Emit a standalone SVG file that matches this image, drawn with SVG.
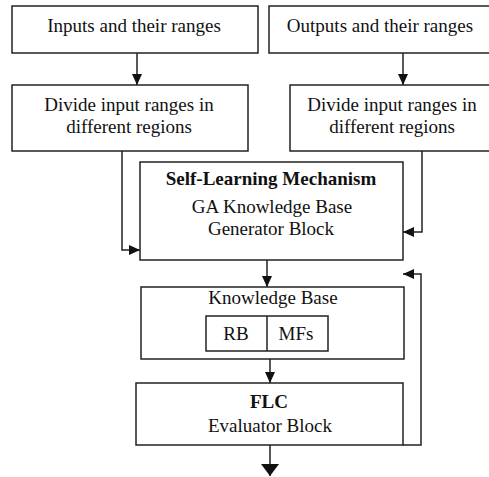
<svg xmlns="http://www.w3.org/2000/svg" width="489" height="477" viewBox="0 0 489 477">
<style>
.box{fill:#fff;stroke:#222;stroke-width:1.5}
.t{font-family:"Liberation Serif","Times New Roman",serif;font-size:19px;fill:#111;text-anchor:middle}
.b{font-weight:bold}
.c{fill:none;stroke:#222;stroke-width:1.5}
</style>
<defs>
<marker id="ah" viewBox="0 0 11 10" refX="11" refY="5" markerWidth="11" markerHeight="10" markerUnits="userSpaceOnUse" orient="auto">
<path d="M0,0 L11,5 L0,10 Z" fill="#111"/>
</marker>
<marker id="ahl" viewBox="0 0 12 18" refX="12" refY="9" markerWidth="12" markerHeight="18" markerUnits="userSpaceOnUse" orient="auto">
<path d="M0,0 L12,9 L0,18 Z" fill="#111"/>
</marker>
</defs>
<rect width="489" height="477" fill="#fff"/>
<g id="connectors">
<path class="c" d="M137,53 V85" marker-end="url(#ah)"/>
<path class="c" d="M403,53 V85" marker-end="url(#ah)"/>
<path class="c" d="M122,151 V250 H140" marker-end="url(#ah)"/>
<path class="c" d="M422,151 V232 H403" marker-end="url(#ah)"/>
<path class="c" d="M267,260 V287" marker-end="url(#ah)"/>
<path class="c" d="M270,359 V383" marker-end="url(#ah)"/>
<path class="c" d="M270,445 V476" marker-end="url(#ahl)"/>
<path class="c" d="M403,445 H421 V274 H403" marker-end="url(#ah)"/>
</g>
<g id="inputs">
<rect class="box" x="12" y="6" width="246" height="47"/>
<text class="t" x="134" y="32">Inputs and their ranges</text>
</g>
<g id="outputs">
<rect class="box" x="269" y="6" width="230" height="47"/>
<text class="t" x="380" y="32">Outputs and their ranges</text>
</g>
<g id="divide-left">
<rect class="box" x="12" y="85" width="236" height="66"/>
<text class="t" x="129" y="111">Divide input ranges in</text>
<text class="t" x="129" y="133">different regions</text>
</g>
<g id="divide-right">
<rect class="box" x="290" y="85" width="210" height="66"/>
<text class="t" x="392" y="111">Divide input ranges in</text>
<text class="t" x="392" y="133">different regions</text>
</g>
<g id="self-learning">
<rect class="box" x="140" y="162" width="263" height="98"/>
<text class="t b" x="271" y="185">Self-Learning Mechanism</text>
<text class="t" x="272" y="213">GA Knowledge Base</text>
<text class="t" x="271" y="235">Generator Block</text>
</g>
<g id="knowledge-base">
<rect class="box" x="141" y="287" width="263" height="72"/>
<text class="t" x="273" y="304">Knowledge Base</text>
<rect class="box" x="206" y="316" width="122" height="35"/>
<line class="c" x1="267" y1="316" x2="267" y2="351"/>
<text class="t" x="236" y="340">RB</text>
<text class="t" x="296" y="340">MFs</text>
</g>
<g id="flc">
<rect class="box" x="136" y="383" width="267" height="62"/>
<text class="t b" x="269" y="408">FLC</text>
<text class="t" x="270" y="432">Evaluator Block</text>
</g>
</svg>
